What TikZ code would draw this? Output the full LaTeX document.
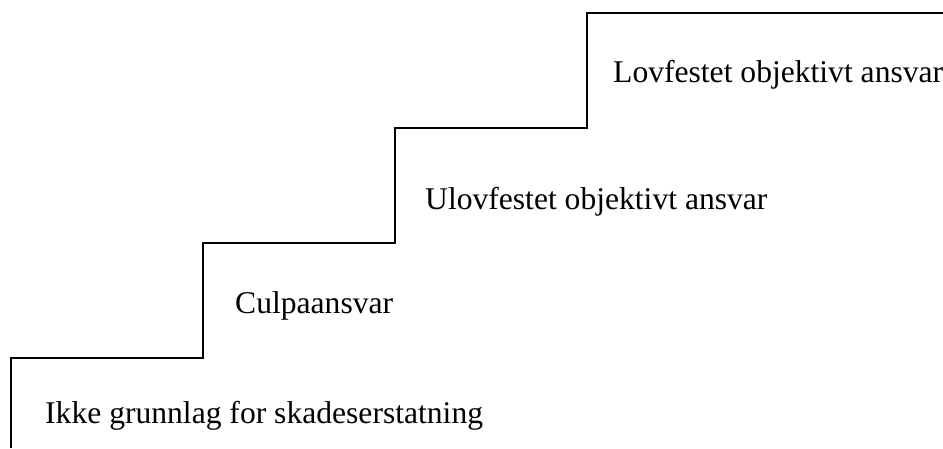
\documentclass[tikz,border=0pt]{standalone}
\usepackage{fontspec}
\setmainfont{Liberation Serif}
\usepackage{tikz}
\usetikzlibrary{positioning}

\begin{document}
\begin{tikzpicture}[
  x=1pt, y=1pt,
  trinn/.style={anchor=base west, inner sep=0pt, font=\fontsize{31.6}{36}\selectfont},
  trapp/.style={line width=2.2pt, black, line join=miter}
]
  \clip (0,0) rectangle (943,448);
  \useasboundingbox (0,0) rectangle (943,448);
  % trappetrinn
  \coordinate (s0) at (11,0);
  \coordinate (s1) at (11,90);
  \coordinate (s2) at (203,90);
  \coordinate (s3) at (203,205);
  \coordinate (s4) at (395,205);
  \coordinate (s5) at (395,320);
  \coordinate (s6) at (587,320);
  \coordinate (s7) at (587,435);
  \coordinate (s8) at (944,435);
  \draw[trapp] (s0) -- (s1) -- (s2) -- (s3) -- (s4) -- (s5) -- (s6) -- (s7) -- (s8);
  % tekster
  \node[trinn] (ikke) at (45,25) {Ikke grunnlag for skadeserstatning};
  \node[trinn] (culpa) at (235,135) {Culpaansvar};
  \node[trinn] (ulov) at (425,239) {Ulovfestet objektivt ansvar};
  \node[trinn] (lov) at (613,365) {Lovfestet objektivt ansvar};
\end{tikzpicture}
\end{document}
